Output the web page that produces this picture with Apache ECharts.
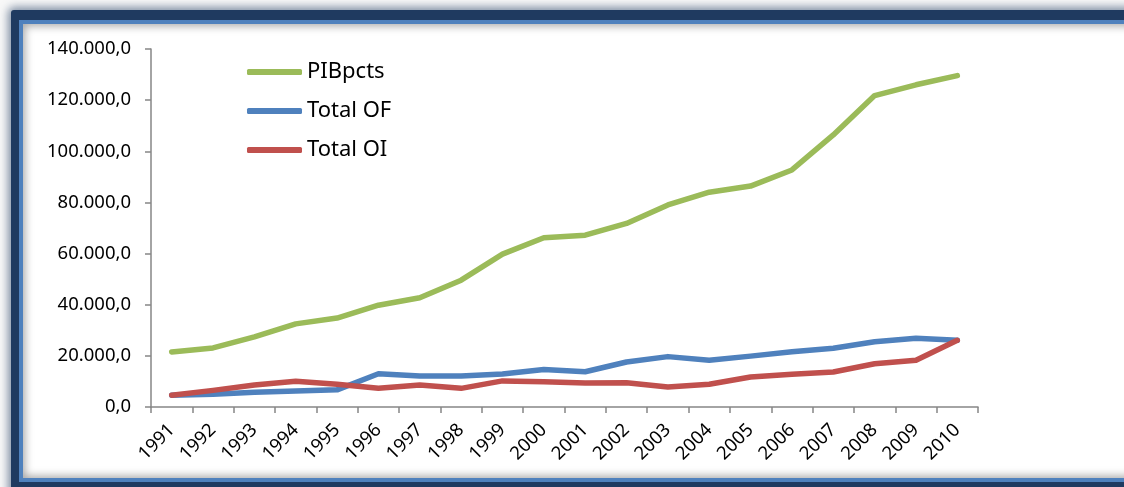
<!DOCTYPE html>
<html>
<head>
<meta charset="utf-8">
<title>PIBpcts / Total OF / Total OI</title>
<script src="https://cdn.jsdelivr.net/npm/echarts@6/dist/echarts.min.js"></script>
<style>
  html, body {
    margin: 0;
    padding: 0;
    width: 1124px;
    height: 487px;
    overflow: hidden;
    background: #f8f8f8;
  }
  .frame {
    position: absolute;
    left: 11px;
    top: 10px;
    width: 1130px;
    height: 490px;
    background: #1f3a60;
    border-radius: 3px;
    box-shadow: 0 0 8px 3px rgba(31, 58, 96, 0.55);
  }
  .inner {
    position: absolute;
    left: 19px;
    top: 20px;
    width: 1120px;
    height: 454px;
    border: 4px solid #4f81bd;
    background: #ffffff;
    box-shadow: inset 0 0 9px 2px rgba(0, 0, 0, 0.35);
  }
  #chart {
    position: absolute;
    left: 0;
    top: 0;
    width: 1124px;
    height: 487px;
  }
</style>
</head>
<body>
<div class="frame"></div>
<div class="inner"></div>
<div id="chart"></div>
<script>
const years = ['1991', '1992', '1993', '1994', '1995', '1996', '1997', '1998', '1999', '2000',
  '2001', '2002', '2003', '2004', '2005', '2006', '2007', '2008', '2009', '2010']

const pibPcts = [21500, 23100, 27400, 32500, 34800, 39800, 42700, 49600, 59800, 66200,
  67200, 71800, 79000, 84000, 86400, 92700, 106400, 121800, 126000, 129600]
const totalOF = [4600, 5000, 5800, 6300, 6700, 13000, 12100, 12100, 12900, 14700,
  13800, 17600, 19700, 18300, 19900, 21600, 23000, 25500, 26900, 26100]
const totalOI = [4600, 6500, 8600, 10100, 8900, 7300, 8600, 7300, 10200, 9900,
  9400, 9500, 7800, 8900, 11700, 12800, 13700, 16900, 18300, 26100]

const yTicks = { min: 0, max: 140000, interval: 20000 }

const fmt = (v) => {
  const s = Math.round(v).toString().replace(/\B(?=(\d{3})+(?!\d))/g, '.')
  return s + ',0'
}

const chart = echarts.init(document.getElementById('chart'))

const axisColor = '#868686'

const lineSeries = (name, data, color) => ({
  name,
  type: 'line',
  data,
  symbol: 'none',
  smooth: false,
  lineStyle: { width: 5.5, color, cap: 'round', join: 'round' },
  itemStyle: { color },
  animation: false
})

chart.setOption({
  backgroundColor: 'transparent',
  textStyle: { fontFamily: 'Noto Sans' },
  grid: { left: 151, right: 146, top: 49, bottom: 80 },
  legend: {
    orient: 'vertical',
    left: 242,
    top: 56,
    itemWidth: 55,
    itemHeight: 6,
    itemGap: 17,
    icon: 'roundRect',
    textStyle: { fontSize: 22, color: '#000', fontFamily: 'Noto Sans' },
    data: ['PIBpcts', 'Total OF', 'Total OI']
  },
  xAxis: {
    type: 'category',
    data: years,
    boundaryGap: true,
    axisLine: { lineStyle: { color: axisColor, width: 1.5 } },
    axisTick: { show: true, length: 6, alignWithLabel: false, lineStyle: { color: axisColor, width: 1.5 } },
    axisLabel: { rotate: 45, fontSize: 18.5, color: '#000', margin: 20, interval: 0 },
    splitLine: { show: false }
  },
  yAxis: {
    type: 'value',
    min: yTicks.min,
    max: yTicks.max,
    interval: yTicks.interval,
    axisLine: { show: true, lineStyle: { color: axisColor, width: 1.5 } },
    axisTick: { show: true, length: 6, lineStyle: { color: axisColor, width: 1.5 } },
    axisLabel: { fontSize: 18.5, color: '#000', margin: 20, formatter: fmt },
    splitLine: { show: false }
  },
  series: [
    lineSeries('PIBpcts', pibPcts, '#9bbb59'),
    lineSeries('Total OF', totalOF, '#4f81bd'),
    lineSeries('Total OI', totalOI, '#c0504d')
  ]
})
</script>
</body>
</html>
